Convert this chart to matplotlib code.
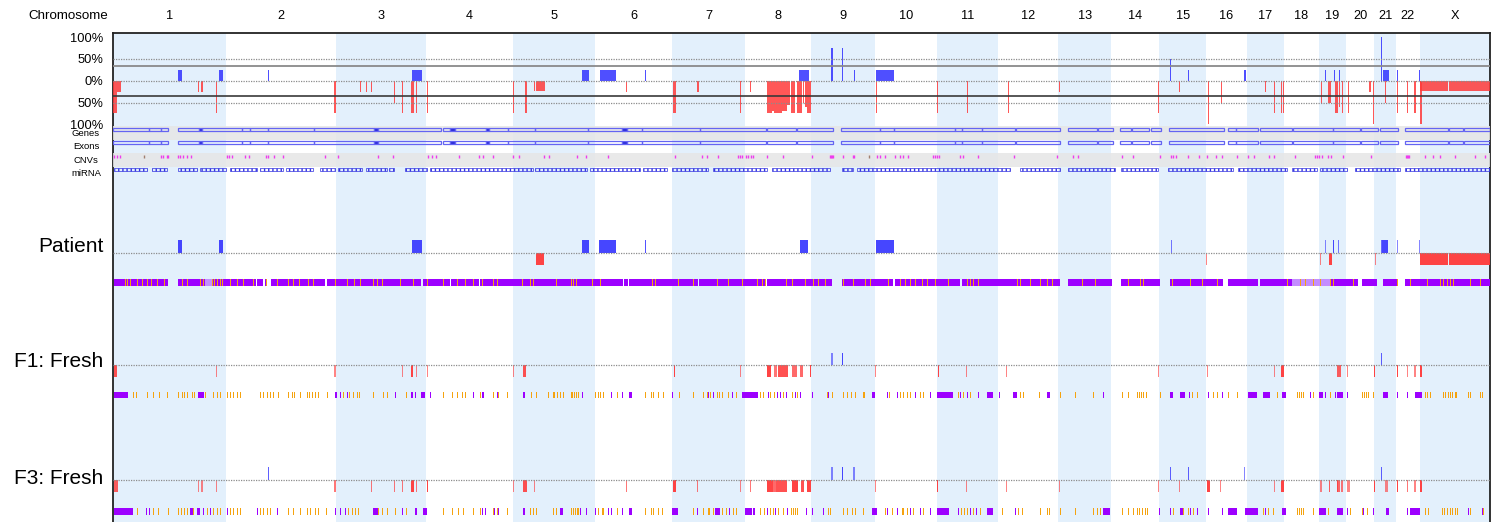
import numpy as np
import matplotlib
matplotlib.use('Agg')
import matplotlib.pyplot as plt
import matplotlib.colors as mcolors
from matplotlib.patches import Rectangle

plt.rcParams['font.family'] = ['Liberation Sans', 'DejaVu Sans']
plt.rcParams['hatch.linewidth'] = 1.0

CHROMS = ['1', '2', '3', '4', '5', '6', '7', '8', '9', '10', '11', '12',
          '13', '14', '15', '16', '17', '18', '19', '20', '21', '22', 'X']
CHROM_SIZES = [249.25, 243.2, 198.0, 191.2, 180.9, 171.1, 159.1, 146.4, 141.2, 135.5, 135.0, 133.9,
               115.2, 107.3, 102.5, 90.4, 81.2, 78.1, 59.1, 63.0, 48.1, 51.3, 155.3]

# summary track, % of samples: (chrom, start Mb, end Mb, percent)
SUMMARY_GAINS = [
    ('1', 143, 151.5, 24), ('1', 234.5, 243, 24), ('2', 92.5, 94.5, 24), ('3', 167.5, 188.5, 24),
    ('5', 151.5, 168.5, 24), ('6', 11, 35, 24), ('6', 35.5, 46.5, 24), ('6', 110, 113.5, 24),
    ('8', 120, 141, 24), ('9', 45, 46.5, 74), ('9', 69, 71, 74), ('9', 94, 95.5, 24),
    ('10', 2, 42, 24), ('15', 23, 25, 50), ('15', 64, 65.5, 24), ('16', 85, 86.5, 24),
    ('19', 12, 13.5, 24), ('19', 32, 34, 24), ('19', 43, 45, 24), ('21', 13.5, 15, 100),
    ('21', 19, 32, 24), ('22', 2, 3.5, 24), ('22', 49, 50.5, 24),
]
SUMMARY_LOSSES = [
    ('1', 0.7, 8.2, -75), ('1', 8.5, 10, -25), ('1', 12, 13.5, -25), ('1', 16, 17.5, -25),
    ('1', 187, 189, -25), ('1', 195, 197, -25), ('1', 228, 230, -75),
    ('2', 239, 243, -75),
    ('3', 53, 55, -25), ('3', 66, 68, -25), ('3', 77, 79, -25), ('3', 127, 129, -50),
    ('3', 145, 147.5, -75), ('3', 164, 170.5, -75), ('3', 175, 177, -75),
    ('4', 1, 3.5, -75),
    ('5', 0.5, 2.5, -75), ('5', 27, 30.5, -75), ('5', 47, 48.5, -23), ('5', 50, 71, -23),
    ('6', 69, 71, -25),
    ('7', 0.3, 7, -75), ('7', 55, 57, -25), ('7', 149, 151, -75),
    ('8', 12.5, 14.5, -25), ('8', 48.7, 59.8, -75), ('8', 59.8, 65, -70), ('8', 65, 82, -75),
    ('8', 82, 93, -70), ('8', 93, 100, -55), ('8', 102, 112, -75), ('8', 115, 126, -75),
    ('8', 128, 130, -50), ('8', 133, 137, -60), ('8', 138, 146, -75),
    ('10', 1, 3, -75),
    ('11', 1.5, 4, -75), ('11', 67, 69, -75),
    ('12', 22, 24.5, -75),
    ('13', 1, 3, -25),
    ('14', 105, 107, -75),
    ('15', 44, 46, -25),
    ('16', 4, 6.5, -100), ('16', 34, 36, -50),
    ('17', 40, 42, -25), ('17', 59, 61, -75), ('17', 76, 78, -75), ('17', 79, 81, -75),
    ('19', 4.5, 6.5, -50), ('19', 20, 26, -50), ('19', 35, 37, -75), ('19', 38, 42, -75),
    ('19', 44, 47, -60), ('19', 50, 52, -75),
    ('20', 4, 6, -75), ('20', 52, 54, -25), ('20', 60.5, 63, -100),
    ('21', 24, 26, -50),
    ('22', 2, 4, -75), ('22', 23, 25, -75), ('22', 40, 42, -75),
    ('X', 0, 62, -23), ('X', 2, 4, -100), ('X', 65, 155.3, -23),
]

# per-sample calls: (chrom, start Mb, end Mb, confidence)
PATIENT_GAINS = [
    ('1', 143, 151.5, 1), ('1', 234.5, 243, 1), ('3', 167.5, 188.5, 1), ('5', 151.5, 168.5, 1),
    ('6', 9.5, 35, 1), ('6', 35.5, 46, 1), ('6', 110, 113, 0.9), ('8', 121, 140, 1),
    ('10', 3, 41, 1), ('15', 25, 26.5, 0.6), ('19', 12, 13.5, 0.5), ('19', 30.5, 32.5, 1),
    ('19', 41, 42.5, 0.6), ('21', 14, 16, 0.7), ('21', 16, 30, 1), ('22', 2, 3.5, 0.5),
    ('22', 49, 50.5, 0.5),
]
PATIENT_LOSSES = [
    ('5', 51, 69, 1), ('16', 1, 2.5, 0.5), ('19', 1, 2.5, 0.5), ('19', 22, 27.5, 1),
    ('21', 0.5, 2, 0.5), ('X', 0, 62, 1), ('X', 65, 155.3, 1),
]
F1_GAINS = [('9', 45, 46.5, 0.5), ('9', 69, 71, 1), ('21', 15, 16.5, 0.8)]
F1_LOSSES = [
    ('1', 3, 8, 0.9), ('1', 228, 230, 0.5), ('2', 239, 242, 0.5), ('3', 145.5, 147.5, 0.5),
    ('3', 164.5, 169, 1), ('3', 175, 177, 0.5), ('4', 2, 4, 0.5), ('5', 0.5, 2.5, 0.5),
    ('5', 23, 30, 0.9), ('7', 3, 6, 1), ('7', 149, 151, 0.5),
    ('8', 48.7, 57.5, 1), ('8', 64.8, 72.1, 0.6), ('8', 74.3, 95, 0.9), ('8', 103.8, 114.8, 0.7),
    ('8', 122, 128, 0.7), ('8', 144, 146.4, 1),
    ('10', 0.5, 2.5, 0.5), ('11', 3, 5.5, 1), ('11', 65.5, 67.5, 0.5), ('12', 19, 21, 0.5),
    ('14', 105, 107, 0.5), ('16', 3, 5, 0.5), ('17', 59, 61, 0.5), ('17', 76, 81, 1),
    ('19', 38.5, 47.5, 0.8), ('20', 2, 4, 0.5), ('20', 61, 63, 1), ('22', 1, 3, 1),
    ('22', 23, 25, 0.5), ('22', 40, 42, 0.5), ('X', 2, 4, 1),
]
F3_GAINS = [
    ('2', 92.5, 94.5, 0.8), ('9', 45, 46.5, 0.5), ('9', 69, 71, 1), ('9', 93.5, 95, 0.5),
    ('15', 22.5, 24, 0.8), ('15', 63, 64.5, 0.8), ('16', 84, 85.5, 0.5), ('21', 15, 16.5, 0.8),
]
F3_LOSSES = [
    ('1', 2.5, 12, 0.8), ('1', 187, 190, 0.5), ('1', 195, 198, 0.5), ('1', 228, 230, 0.5),
    ('2', 239, 242, 0.6), ('3', 77, 79, 0.6), ('3', 127, 129, 0.6), ('3', 145.5, 147.5, 0.6),
    ('3', 164.5, 170.5, 1), ('3', 175, 177, 0.6), ('4', 2, 4, 1), ('5', 0.5, 2.5, 0.5),
    ('5', 23, 32, 0.9), ('5', 46, 48, 0.5), ('6', 69, 71, 0.6), ('7', 0.5, 7.5, 1),
    ('7', 54, 56, 0.6), ('7', 149, 151, 0.5), ('8', 12.5, 14.5, 0.6),
    ('8', 48.7, 62, 1), ('8', 62, 70, 0.7), ('8', 70, 94, 0.9), ('8', 105, 117, 1),
    ('8', 125, 130, 0.9), ('8', 138, 146.4, 1),
    ('10', 0.5, 2.5, 0.5), ('11', 1.5, 4, 1), ('11', 65.5, 67.5, 0.5), ('12', 19, 21, 0.5),
    ('13', 1, 3, 0.5), ('14', 105, 107, 0.5), ('15', 44, 46, 0.5), ('16', 3, 8.5, 1),
    ('16', 32, 34, 0.5), ('17', 59, 61, 0.5), ('17', 76, 81, 1), ('19', 3, 5, 0.5),
    ('19', 21.5, 23.5, 0.8), ('19', 38.5, 41, 1), ('19', 41, 47, 0.7), ('19', 48, 53, 0.6),
    ('20', 1.5, 8.5, 0.5), ('20', 61, 63, 1), ('21', 23, 30, 0.5), ('22', 1, 3, 1),
    ('22', 23, 25, 0.6), ('22', 40, 42, 0.5), ('X', 2, 4, 1),
]

# annotation tracks, genome-wide Mb
GENE_BLOCKS = [
    (0, 79.4), (79.4, 105.8), (105.8, 121.9), (144, 189.6), (189.6, 195.6), (195.6, 283.8),
    (283.8, 302.1), (302.1, 341.1), (341.1, 443.9), (443.9, 576.2), (576.2, 585), (585, 722.6),
    (727, 743.1), (743.1, 754.8), (754.8, 821.8), (821.8, 829.8), (829.8, 871.7), (871.7, 930.5),
    (930.5, 1048), (1048, 1123), (1123, 1132.7), (1132.7, 1167.1), (1167.1, 1294.8),
    (1294.8, 1439.2), (1441.4, 1505.4), (1507.6, 1588.3), (1605.2, 1691.2), (1691.2, 1722.8),
    (1722.8, 1856.6), (1856.6, 1871.4), (1871.4, 1915.5), (1915.5, 1989.3), (1991.1, 2088.1),
    (2106.4, 2169), (2171.3, 2204.3), (2220.4, 2244.7), (2247.6, 2285), (2288.8, 2310.2),
    (2329.2, 2449.8), (2459.3, 2476.2), (2476.2, 2525.4), (2529.1, 2600.4), (2602.6, 2689.4),
    (2690.8, 2749.6), (2751.8, 2788.6), (2793.7, 2834.1), (2848.8, 2943), (2946.5, 2977.4),
    (2979.6, 3036),
]
CNV_SITES = [
    2.9, 8.2, 15.4, 105.8, 110.9, 118.4, 121.9, 144, 147.7, 153.7, 162.5, 171.3, 250.7, 256.4,
    261.7, 291, 300.5, 336.7, 341.8, 355.7, 375.5, 467.5, 496.8, 583.6, 618, 695.2, 704, 711.5,
    762.3, 807, 816.5, 838.6, 882.7, 895.9, 950.4, 962.1, 1023.8, 1043, 1092.2, 1239.2, 1298.1,
    1309.1, 1334.7, 1378.8, 1382.5, 1387.6, 1395.8, 1400.8, 1406.1, 1410.5, 1441.4, 1476.7,
    1540.6, 1580.5, 1583, 1585.5, 1587.8, 1610.3, 1631, 1634.6, 1684, 1691.2, 1702.3, 1724.3,
    1735.3, 1742.6, 1753.6, 1808.8, 1813.2, 1817.6, 1822, 1867.6, 1873.5, 1908, 1986.7, 2082.2,
    2116.2, 2128.5, 2224.2, 2248.5, 2308.6, 2332.3, 2338, 2343.9, 2369.7, 2395.3, 2412.9, 2432.1,
    2444.7, 2479.1, 2503.3, 2515.9, 2549.6, 2560, 2606.3, 2650.4, 2654.1, 2659.9, 2665.2, 2678.4,
    2685.7, 2712.8, 2773.9, 2851, 2853.5, 2856, 2858, 2892.5, 2910.7, 2926.8, 2959.9, 3002.7, 3026,
]
CNV_SITES_OTHER = [68.4, 1667.6]
MIRNA_CLUSTERS = [
    (2.2, 74.2), (85.2, 118.3), (144, 184.5), (191.8, 249.1), (258, 316.8), (324.1, 375.6),
    (381.4, 441.7), (456.4, 489.5), (496.8, 548.3), (557.8, 603.4), (609.3, 619.6), (643.8, 691.6),
    (698.9, 926.9), (930.6, 1044.5), (1051.9, 1162.1), (1169.5, 1220.9), (1231.9, 1312.8),
    (1323.8, 1441.4), (1452.4, 1581.1), (1606.8, 1632.5), (1639.9, 1977.9), (1999.9, 2088.1),
    (2106.5, 2209.4), (2221.9, 2305), (2327, 2470.3), (2481.3, 2587.9), (2599, 2654.1),
    (2661.4, 2720.2), (2738.6, 2837.8), (2848.8, 3036),
]

# marker stripes, genome-wide Mb (single value = one marker, pair = run)
PATIENT_PURPLE = [
    (2.2, 121.9), (144, 203), (217.6, 315.3), (318.2, 331.4), (335.2, 339), (347.8, 467.3),
    (471, 680), (683, 742), (745, 807), (810, 929.5), (931.5, 1124.5), (1126.5, 1135.5),
    (1137.5, 1290), (1292, 1437.6), (1442.8, 1584.6), (1606.7, 1720.6), (1724.3, 1867.6),
    (1871.3, 2088.1), (2106.5, 2202.1), (2222, 2308.7), (2330.8, 2446.9), (2459.4, 2525.5),
    (2529.2, 2599), (2683.6, 2746), (2753.4, 2786.5), (2799.7, 2832.8), (2849, 3036),
]
PATIENT_MIXED = [(203, 217.6), (2599, 2683.6)]
PATIENT_ORANGE = [
    26.5, 31.5, 37.5, 52.3, 63.3, 74.3, 83.1, 96.4, 113.1, 151.5, 162.5, 191.8, 199.1, 219,
    223.4, 228.7, 235.9, 239.7, 258, 272.8, 287.3, 309.4, 337.4, 361, 386.5, 397.6, 410.1,
    430.6, 441.7, 489.5, 515.3, 531.4, 544.6, 574, 581.5, 592.5, 632.8, 662.2, 691.7, 728.3,
    757.9, 776.2, 794.5, 813, 838.6, 847.4, 901.1, 919.5, 925.3, 976.8, 1009.1, 1013.5, 1020.2,
    1055.4, 1073.8, 1187.7, 1195.1, 1246.5, 1279.6, 1332.5, 1356.8, 1386.2, 1419.3, 1430.3,
    1437.6, 1483.9, 1496.4, 1525.8, 1544.2, 1555.2, 1569.9, 1608.9, 1632.4, 1658.1, 1669.2,
    1709.6, 1735.3, 1746.3, 1757.4, 1768.4, 1783.1, 1794.1, 1812.5, 1841.9, 1882.3, 1889.7,
    1897, 1908, 1992.6, 1999.9, 2022, 2044, 2058.7, 2069.7, 2135.9, 2165.2, 2238.8, 2264.5,
    2271.8, 2334.4, 2374.8, 2400.6, 2433.6, 2588, 2617.3, 2628.4, 2646.7, 2661.4, 2683.5,
    2690.8, 2734.9, 2830.6, 2859.9, 2896.8, 2926, 2933.3, 2940.8, 2948.1, 2955.4, 2992.2, 3014.2,
]
F1_PURPLE = [
    (2.2, 33.8), (188.1, 200.6), (489.5, 494.6), 500.5, 515.2, 621.8, (656.3, 662.2), 665.9,
    (678.4, 687.9), 699, 794.5, 812.9, 816.6, 847.4, 903.3, 907, 1033.4, 1097.3, 1121.6,
    (1138.5, 1143.6), 1231.8, 1312.7, 1322.2, 1364.1, (1386.2, 1422.9), 1443.5, 1464.8, 1470.7,
    1483.9, 1503.8, 1514.8, 1540.5, 1577.3, (1672.8, 1680.2), 1705.9, 1728, 1768.4, 1801.5,
    (1817.6, 1851.4), 1867.6, 1882.3, 1908, (1926.4, 1941.1), 1954.3, (1985.2, 1992.6),
    (2058.7, 2066.1), 2183.7, (2330.7, 2338), (2352.7, 2363.7), 2373.3, 2389.5, 2415.2, 2444.6,
    (2503.4, 2521.8), (2535, 2551.2), (2576.9, 2586.4), 2639.4, (2660, 2667.3), 2672.4, 2694.5,
    (2698.2, 2712.9), 2720.2, (2801.1, 2812.1), 2831.9, 2852.5, (2870.9, 2885.6),
]
F1_ORANGE = [
    43.3, 50.7, 74.2, 88.9, 102.1, 119.8, 144, 151.4, 157.3, 162.4, 173.4, 178.6, 202.8, 221.2,
    228.6, 235.9, 250.6, 258, 265.3, 272.7, 280, 324.1, 331.5, 338.8, 346.2, 353.5, 364.5, 386.6,
    393.9, 399.1, 412.3, 427, 432.9, 438.8, 445.4, 452.7, 471.1, 507.9, 521.1, 529.9, 537.3,
    543.1, 574, 594.6, 603.4, 646, 728.4, 746.7, 757.8, 768.8, 776.1, 809.2, 838.6, 849.6, 869.5,
    920.9, 932.7, 958.4, 969.4, 972.4, 979.7, 985.6, 991.5, 1009, 1013, 1017, 1021, 1025, 1062.8,
    1070.1, 1073.8, 1079.7, 1110.6, 1173, 1185.5, 1191.4, 1202.4, 1212, 1248.7, 1279.6, 1300.2,
    1309, 1316.4, 1331.1, 1336.9, 1342.1, 1356.8, 1373.7, 1426.6, 1434, 1448.7, 1457.5, 1476.6,
    1496.4, 1508.9, 1573.6, 1584.6, 1608.9, 1617.7, 1626.5, 1636.1, 1653, 1656.7, 1711.8, 1735.3,
    1742.7, 1750, 1757.3, 1779.4, 1785.3, 1863.9, 1875, 1889.7, 1999.9, 2007.3, 2042.5, 2088.1,
    2121.2, 2161.6, 2224.1, 2238.8, 2257, 2262, 2267, 2272, 2277, 2308.6, 2378.4, 2389.5, 2426.2,
    2433.6, 2459.3, 2479.1, 2565.9, 2610, 2615, 2620, 2625, 2646.7, 2683.5, 2753, 2758, 2763,
    2768, 2779, 2893, 2898, 2903, 2933, 2938, 2943, 2948, 2953, 2958, 2962, 2988.5, 2992.2,
    3014.2, 3017.9,
]
F3_PURPLE = [
    (2.2, 44.8), 72.7, 80.1, (169.8, 177.1), (184.5, 191.8), 199.1, 213.9, 250.6, 316.8, 360.9,
    489.5, 500.5, 511.5, (574, 585), 636.5, (665.9, 669.6), (684.3, 691.6), 812.9, 820.2,
    (838.6, 842.3), 849.6, (903.3, 908.4), (985.6, 991.5), 1029.7, 1042.9, 1062.8, 1092.2, 1097.3,
    1121.6, (1138.5, 1143.6), (1231.8, 1246.5), 1288.4, (1327.4, 1338.4), 1358.2,
    (1393.5, 1408.2), (1411.9, 1415.6), 1441.3, 1459.7, 1486.9, 1528, 1540.5, 1566.3,
    (1672.8, 1683.9), 1705.9, 1728, 1757.4, 1779.4, 1801.5, (1817.6, 1844.1), 1863.9, 1889.7,
    1902.9, (1926.4, 1941.1), 1988.9, (2183.7, 2198.4), 2307.1, 2330.7, (2352.7, 2358.6),
    2374.8, 2389.5, 2415.2, 2444.6, (2459.3, 2477.6), (2496, 2525.4), 2540.1, (2576.9, 2586.4),
    (2660, 2674.6), (2698.2, 2712.9), 2720.2, 2757, 2779, (2807, 2814.3), 2852.5,
    (2859.9, 2881.9), 2988.5, 3017.9,
]
F3_ORANGE = [
    52.1, 88.9, 100, 120.5, 144, 150, 156, 162.4, 177.1, 206.5, 221.2, 228.6, 235.9, 258, 265.3,
    272.7, 280, 324.1, 331.5, 338.8, 346.2, 386.6, 397.6, 412.3, 427, 434.4, 445.4, 452.7, 469.6,
    518.9, 526.3, 533.6, 541, 585, 593.1, 603.4, 621.8, 646, 728.4, 746.7, 761.4, 772.4, 794.5,
    809.2, 838.6, 847.4, 869.5, 919.5, 926.8, 932.7, 969.4, 976.8, 1009.1, 1013.5, 1017.9,
    1022.4, 1026, 1070.1, 1077.5, 1081.2, 1110.6, 1173, 1185.5, 1191.4, 1202.4, 1209.8, 1279.6,
    1312.7, 1323.7, 1300.2, 1314.9, 1342.1, 1351.6, 1367.8, 1373.7, 1426.6, 1435.4, 1448.7,
    1454.5, 1467, 1476.6, 1494.2, 1500.1, 1504.5, 1508.9, 1577.3, 1581, 1608.9, 1617.7, 1628.7,
    1636.1, 1654.5, 1702.2, 1716.9, 1739, 1742.7, 1750, 1764.7, 1785.3, 1869.1, 1876.4, 1882.3,
    1895.5, 1911.7, 1959.5, 1996.2, 2003.6, 2044, 2060.2, 2064.6, 2088.1, 2121.2, 2161.6, 2168.9,
    2176.3, 2224.1, 2238.8, 2249.8, 2257.2, 2263, 2268.9, 2274.8, 2279.2, 2338, 2360.1, 2371.1,
    2382.1, 2535, 2547.5, 2558.5, 2610, 2615.8, 2620.2, 2624.7, 2646.7, 2679.8, 2727.6, 2753.3,
    2764.3, 2892.9, 2900.3, 2929.7, 2935.6, 2941.4, 2947.3, 2953.2, 2959.1, 2962.8, 2992.2, 3021.6,
]

SAMPLES = [
    ('Patient', PATIENT_GAINS, PATIENT_LOSSES),
    ('F1: Fresh', F1_GAINS, F1_LOSSES),
    ('F3: Fresh', F3_GAINS, F3_LOSSES),
]

BLUE = '#3c3cff'
RED = '#ff3a3a'
PURPLE = '#9d00ff'
LIGHT_PURPLE = '#c48dff'
ORANGE = '#f5a30f'
SHADE = '#e3f0fc'
DOT = (0, (1, 1))
MIN_W = 2.4

OFFSET = dict(zip(CHROMS, np.concatenate([[0.0], np.cumsum(CHROM_SIZES)[:-1]])))
GENOME = float(np.sum(CHROM_SIZES))

W, H = 1497, 522
fig = plt.figure(figsize=(W / 100, H / 100), dpi=100)


def box(x0, y0, x1, y1):
    # pixel box (top-left origin) -> figure fraction
    return [x0 / W, 1 - y1 / H, (x1 - x0) / W, (y1 - y0) / H]


def spans(items, min_w=2.2):
    out = []
    for it in items:
        s, e = it if isinstance(it, tuple) else (it, it)
        out.append((s, max(e - s, min_w)))
    return out


def draw_calls(ax, calls, sign, color, scale=1.0):
    if not calls:
        return
    xs = [OFFSET[c] + s for c, s, e, v in calls]
    ws = [max(e - s, MIN_W) for c, s, e, v in calls]
    hs = [sign * scale for c, s, e, v in calls]
    cols = [mcolors.to_rgba(color, 0.3 + 0.65 * v) for c, s, e, v in calls]
    ax.bar(xs, hs, width=ws, align='edge', color=cols, linewidth=0)


def draw_stripe(ax, items, color, y0, y1, min_w=2.2):
    sp = spans(items, min_w)
    ax.bar([s for s, w in sp], y1 - y0, width=[w for s, w in sp], bottom=y0,
           align='edge', color=color, linewidth=0)


def clean(ax):
    ax.set_xlim(0, GENOME)
    ax.patch.set_visible(False)
    for sp in ax.spines.values():
        sp.set_visible(False)
    ax.set_xticks([])
    ax.set_yticks([])


# background: chromosome shading and frame
ax_bg = fig.add_axes(box(113, 33, 1490, 522))
ax_bg.set_xlim(0, GENOME)
ax_bg.set_ylim(0, 1)
ax_bg.set_xticks([])
ax_bg.set_yticks([])
for i, (c, size) in enumerate(zip(CHROMS, CHROM_SIZES)):
    if i % 2 == 0:
        ax_bg.axvspan(OFFSET[c], OFFSET[c] + size, color=SHADE, lw=0)
    ax_bg.text(OFFSET[c] + size / 2, 1.0345, c, transform=ax_bg.get_xaxis_transform(),
               ha='center', va='center', fontsize=9.2, clip_on=False)
ax_bg.spines['bottom'].set_visible(False)
for k in ['top', 'left', 'right']:
    ax_bg.spines[k].set_color('#222222')
    ax_bg.spines[k].set_linewidth(1.3)
ax_bg.text(-0.0035, 1.0355, 'Chromosome', transform=ax_bg.transAxes, ha='right',
           va='center', fontsize=9.6)

# summary percent panel
ax_top = fig.add_axes(box(113, 37.1, 1490, 124.3))
clean(ax_top)
ax_top.set_ylim(-100, 100)
for y in [50, 0, -50]:
    ax_top.axhline(y, color='#8c8c8c', lw=0.9, ls=DOT)
ax_top.axhline(34.4, color='#8a8a8a', lw=1.3)
ax_top.axhline(-34.4, color='#3a3a3a', lw=1.2)
for c, s, e, v in SUMMARY_GAINS:
    ax_top.bar(OFFSET[c] + s, v, width=max(e - s, MIN_W), align='edge', color=BLUE,
               alpha=0.9, linewidth=0)
for c, s, e, v in SUMMARY_LOSSES:
    ax_top.bar(OFFSET[c] + s, v, width=max(e - s, MIN_W), align='edge', color=RED,
               alpha=0.85, linewidth=0)
ax_top.set_yticks([100, 50, 0, -50, -100])
ax_top.set_yticklabels(['100%', '50%', '0%', '50%', '100%'])
ax_top.tick_params(axis='y', length=0, pad=7, labelsize=9.3)

# annotation tracks
ax_trk = fig.add_axes(box(113, 126, 1490, 180))
clean(ax_trk)
ax_trk.set_ylim(4, 0)
ax_trk.axhspan(0, 1, color='#e6e6e6', alpha=0.85, lw=0)
ax_trk.axhspan(2, 3, color='#e6e6e6', alpha=0.85, lw=0)
for row in [0, 1]:
    for s, e in GENE_BLOCKS:
        small = (e - s) < 12
        ax_trk.add_patch(Rectangle((s, row + 0.12), e - s, 0.25,
                                   facecolor='#2a2ad8' if small else 'none',
                                   edgecolor='#6464f2', lw=0.9))
ax_trk.vlines(CNV_SITES, 2.18, 2.38, color='#ee3cee', lw=1.0)
ax_trk.vlines(CNV_SITES_OTHER, 2.18, 2.38, color='#a08070', lw=1.0)
for s, e in MIRNA_CLUSTERS:
    ax_trk.add_patch(Rectangle((s, 3.08), e - s, 0.24, facecolor='none',
                               edgecolor='#3434e0', hatch='||||', lw=0.5))
for row, name in enumerate(['Genes', 'Exons', 'CNVs', 'miRNA']):
    ax_trk.text(-0.0196, row + 0.55, name, transform=ax_trk.get_yaxis_transform(),
                ha='center', va='center', fontsize=6.8)

# sample panels
UNIT = 12.7
panel_base = [252.7, 365.3, 480.0]
stripe_rows = [(-2.6, -2.1), (-2.6, -2.08), (-2.75, -2.2)]
label_y = [0.47, 0.28, 0.08]
stripes = [
    [(PATIENT_PURPLE, PURPLE), (PATIENT_MIXED, LIGHT_PURPLE), (PATIENT_ORANGE, ORANGE)],
    [(F1_PURPLE, PURPLE), (F1_ORANGE, ORANGE)],
    [(F3_PURPLE, PURPLE), (F3_ORANGE, ORANGE)],
]
for (name, gains, losses), base, (y0, y1), ly, st in zip(SAMPLES, panel_base, stripe_rows,
                                                          label_y, stripes):
    ax = fig.add_axes(box(113, base - 1.2 * UNIT, 1490, base + 2.8 * UNIT))
    clean(ax)
    ax.set_ylim(-2.8, 1.2)
    ax.axhline(0, color='#8c8c8c', lw=0.9, ls=DOT)
    draw_calls(ax, gains, 1, BLUE)
    draw_calls(ax, losses, -1, RED, 0.95)
    for items, col in st:
        draw_stripe(ax, items, col, y0, y1)
    ax.text(-0.0068, ly, name, transform=ax.get_yaxis_transform(), ha='right',
            va='center', fontsize=15)

fig.savefig('out.png', dpi=100)
